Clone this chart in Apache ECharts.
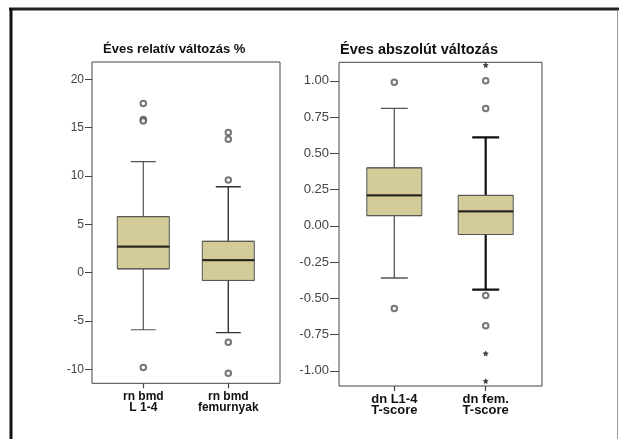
<!DOCTYPE html>
<html lang="hu">
<head>
  <meta charset="UTF-8">
  <title>Éves változás</title>
  <script src="https://cdn.jsdelivr.net/npm/echarts@6/dist/echarts.min.js"></script>
  <style>
    html, body {
      margin: 0;
      padding: 0;
      background: #fff;
    }

    #main {
      width: 619px;
      height: 439px;
    }
  </style>
</head>
<body>
<div id="main"></div>
<script>
  // bal panel - relatív változás %
  var relCats = ['rn bmd\nL 1-4', 'rn bmd\nfemurnyak'];
  // [min, Q1, medián, Q3, max]
  var relBoxes = [
    [-5.9, 0.4, 2.7, 5.8, 11.5],
    [-6.2, -0.8, 1.3, 3.25, 8.9]
  ];
  var relOutliers = [[0, 17.5], [0, 15.85], [0, 15.7], [0, -9.8], [1, 14.5], [1, 13.8], [1, 9.6], [1, -7.2], [1, -10.4]];
  var relExtremes = [];
  var relTicks = [-10, -5, 0, 5, 10, 15, 20];

  // jobb panel - abszolút változás
  var absCats = ['dn L1-4\nT-score', 'dn fem.\nT-score'];
  var absBoxes = [
    [-0.36, 0.07, 0.21, 0.40, 0.81],
    [-0.44, -0.06, 0.10, 0.21, 0.61]
  ];
  var absOutliers = [[0, 0.99], [0, -0.57], [1, 1.0], [1, 0.81], [1, -0.48], [1, -0.69]];
  var absExtremes = [[1, 1.11], [1, -0.88], [1, -1.07]];
  var absTicks = [-1, -0.75, -0.5, -0.25, 0, 0.25, 0.5, 0.75, 1];

  var FONT = '"Liberation Sans", Arial, sans-serif';
  var BOX_FILL = '#d3cc98';
  var STAR = 'path://M0,-10 L2.9,-4 9.5,-3.1 4.7,1.5 5.9,8.1 0,5 -5.9,8.1 -4.7,1.5 -9.5,-3.1 -2.9,-4 Z';

  // elrendezés (pixelben) es a keret tengelytartománya
  var panels = [
    {
      title: 'Éves relatív változás %', titleLeft: 103, titleTop: 43, titleSize: 13,
      frame: {left: 92, top: 62, right: 280, bottom: 383.3}, yTop: 21.8, yBottom: -11.44,
      centers: [143.3, 228.3], boxW: 52, capW: 25, labelSize: 12, catSize: 12, tickLen: 7,
      cats: relCats, boxes: relBoxes, outliers: relOutliers, extremes: relExtremes, ticks: relTicks,
      digits: 0, whisker: [{w: 1.2, c: '#555'}, {w: 1.4, c: '#333'}]
    },
    {
      title: 'Éves abszolút változás', titleLeft: 340, titleTop: 42, titleSize: 14.5,
      frame: {left: 339, top: 62.3, right: 542, bottom: 386}, yTop: 1.128, yBottom: -1.105,
      centers: [394.3, 485.7], boxW: 55, capW: 27, labelSize: 13, catSize: 13, tickLen: 9,
      cats: absCats, boxes: absBoxes, outliers: absOutliers, extremes: absExtremes, ticks: absTicks,
      digits: 2, whisker: [{w: 1.3, c: '#555'}, {w: 2.2, c: '#111'}]
    }
  ];

  var grids = [], xAxes = [], yAxes = [], series = [], titles = [];

  panels.forEach(function (p, i) {
    var f = p.frame;
    var h = f.bottom - f.top;
    var pxPerUnit = h / (p.yTop - p.yBottom);
    var tMin = p.ticks[0], tMax = p.ticks[p.ticks.length - 1];
    var gFrame = grids.length, gTick = gFrame + 1, gData = gFrame + 2;
    var spacing = p.centers[1] - p.centers[0];

    titles.push({
      text: p.title, left: p.titleLeft, top: p.titleTop, padding: 0,
      textStyle: {fontFamily: FONT, fontSize: p.titleSize, fontWeight: 'bold', color: '#111'}
    });

    // keret
    grids.push({
      left: f.left, top: f.top, width: f.right - f.left, height: h,
      show: true, borderColor: '#444', borderWidth: 1, backgroundColor: 'transparent'
    });
    // beosztás
    grids.push({
      left: f.left, width: f.right - f.left,
      top: f.top + (p.yTop - tMax) * pxPerUnit,
      height: (tMax - tMin) * pxPerUnit
    });
    // adatok
    grids.push({
      left: p.centers[0] - spacing / 2, width: spacing * 2, top: f.top, height: h
    });

    xAxes.push({gridIndex: gFrame, type: 'value', show: false});
    xAxes.push({gridIndex: gTick, type: 'value', show: false});
    var xMain = xAxes.length;
    xAxes.push({
      gridIndex: gData, type: 'category', data: p.cats,
      axisLine: {show: false, onZero: false},
      axisTick: {show: true, alignWithLabel: true, length: 5, lineStyle: {color: '#444', width: 1.2}},
      axisLabel: {
        margin: 8, interval: 0, fontFamily: FONT, fontSize: p.catSize, fontWeight: 'bold',
        color: '#111', lineHeight: 11
      },
      splitLine: {show: false}
    });
    // második, rejtett kategóriatengely a dobozoknak (hogy ne tolják el egymást)
    var xBody = xAxes.length;
    xAxes.push({gridIndex: gData, type: 'category', data: p.cats, show: false, axisLine: {onZero: false}});

    yAxes.push({gridIndex: gFrame, type: 'value', show: false, min: p.yBottom, max: p.yTop});
    yAxes.push({
      gridIndex: gTick, type: 'value', min: tMin, max: tMax, interval: p.ticks[1] - p.ticks[0],
      axisLine: {show: false},
      axisTick: {show: true, length: p.tickLen, lineStyle: {color: '#444', width: 1}},
      axisLabel: {
        margin: p.tickLen + 1, fontFamily: FONT, fontSize: p.labelSize, color: '#444',
        formatter: function (v) {
          return v.toFixed(p.digits);
        }
      },
      splitLine: {show: false}
    });
    var yData = yAxes.length;
    yAxes.push({gridIndex: gData, type: 'value', show: false, min: p.yBottom, max: p.yTop});

    // bajuszok (keskenyebb végvonallal) - a belső rész a doboz alá kerül
    series.push({
      type: 'boxplot', xAxisIndex: xMain, yAxisIndex: yData,
      boxWidth: [p.capW, p.capW], silent: true,
      itemStyle: {color: BOX_FILL, borderColor: '#555', borderWidth: 1.2},
      data: p.boxes.map(function (b, k) {
        return {
          value: [b[0], b[2], b[2], b[2], b[4]],
          itemStyle: {borderWidth: p.whisker[k].w, borderColor: p.whisker[k].c}
        };
      })
    });
    // dobozok
    series.push({
      type: 'boxplot', xAxisIndex: xBody, yAxisIndex: yData,
      boxWidth: [p.boxW, p.boxW], silent: true,
      itemStyle: {color: BOX_FILL, borderColor: '#555', borderWidth: 1},
      data: p.boxes.map(function (b) {
        return [b[1], b[1], b[2], b[3], b[3]];
      })
    });
    // mediánok
    series.push({
      type: 'scatter', xAxisIndex: xMain, yAxisIndex: yData, silent: true,
      symbol: 'rect', symbolSize: [p.boxW, 2.2],
      itemStyle: {color: '#111'},
      data: p.boxes.map(function (b, k) {
        return [k, b[2]];
      })
    });
    // kiugró értékek
    series.push({
      type: 'scatter', xAxisIndex: xMain, yAxisIndex: yData, silent: true, clip: false,
      symbol: 'emptyCircle', symbolSize: 5.5,
      itemStyle: {color: '#555', borderWidth: 0.9},
      data: p.outliers
    });
    // szélsőséges értékek
    series.push({
      type: 'scatter', xAxisIndex: xMain, yAxisIndex: yData, silent: true, clip: false,
      symbol: STAR, symbolSize: 6,
      itemStyle: {color: '#111'},
      data: p.extremes
    });
  });

  var myChart = echarts.init(document.getElementById('main'));
  myChart.setOption({
    animation: false,
    backgroundColor: '#fff',
    title: titles,
    grid: grids,
    xAxis: xAxes,
    yAxis: yAxes,
    series: series,
    graphic: [
      {type: 'line', shape: {x1: 9, y1: 9, x2: 619, y2: 9}, style: {stroke: '#222', lineWidth: 3}},
      {type: 'line', shape: {x1: 11, y1: 8, x2: 11, y2: 439}, style: {stroke: '#111', lineWidth: 3}},
      {type: 'line', shape: {x1: 617.5, y1: 10, x2: 617.5, y2: 439}, style: {stroke: '#999', lineWidth: 1}}
    ]
  });
</script>
</body>
</html>
